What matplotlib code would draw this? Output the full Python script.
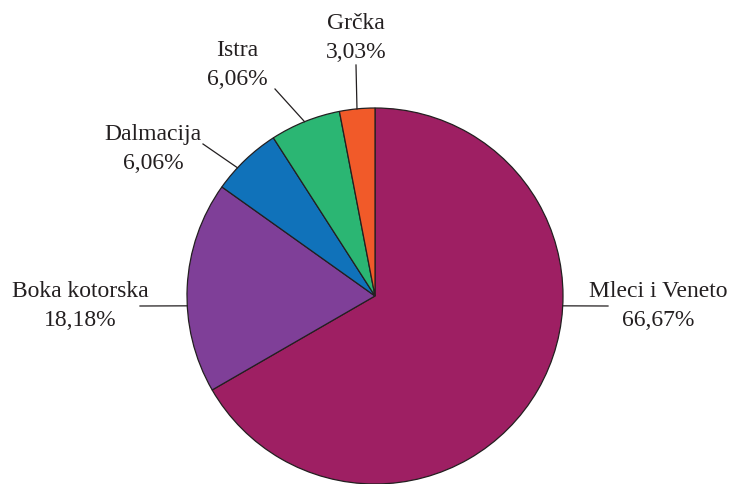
import numpy as np
import matplotlib
matplotlib.use("Agg")
import matplotlib.pyplot as plt

categories = ["Mleci i Veneto", "Boka kotorska", "Dalmacija", "Istra", "Grčka"]
values = [66.67, 18.18, 6.06, 6.06, 3.03]
pct_labels = ["66,67%", "18,18%", "6,06%", "6,06%", "3,03%"]
colors = ["#9E1F63", "#7F3F98", "#1072BA", "#2BB673", "#F15A29"]

# layout: leader start angle (deg) on rim, leader end point (px, from top), text center (px)
leader_angles = [-3.0, 183.0, 137.0, 112.0, 95.5]
leader_ends = [(608, 307), (140, 307), (203, 145), (275, 90), (356, 66)]
text_pos = [(658, 306), (80, 306), (153, 149), (237, 65), (356, 38)]

W, H = 746, 485
fig = plt.figure(figsize=(W / 100, H / 100), dpi=100)
ax = fig.add_axes([0, 0, 1, 1])

cx, cy_top, R = 375, 297, 188
cy = H - cy_top
ax.pie(values, colors=colors, startangle=90, counterclock=False,
       center=(cx, cy), radius=R, frame=True,
       wedgeprops=dict(edgecolor="#231F20", linewidth=0.9))
ax.set_xlim(0, W)
ax.set_ylim(0, H)
ax.set_aspect("equal")
ax.axis("off")

for cat, pl, ang, end, tp in zip(categories, pct_labels, leader_angles, leader_ends, text_pos):
    a = np.deg2rad(ang)
    x0 = cx + R * np.cos(a)
    y0 = cy + R * np.sin(a)
    ax.plot([x0, end[0]], [y0, H - end[1]], color="#231F20", lw=0.9)
    ax.text(tp[0], H - tp[1], f"{cat}\n{pl}", ha="center", va="center",
            fontsize=17, family="Liberation Serif", color="#231F20",
            linespacing=1.45)

fig.savefig("out.png", dpi=100)
